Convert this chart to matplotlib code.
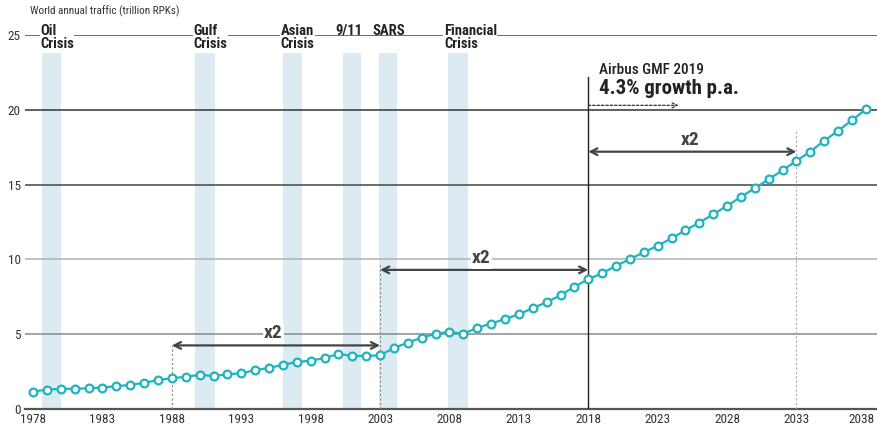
import matplotlib
matplotlib.use("Agg")
import matplotlib.pyplot as plt
from matplotlib import font_manager
from matplotlib.transforms import ScaledTranslation

names = {f.name for f in font_manager.fontManager.ttflist}
COND = "Liberation Sans Narrow" if "Liberation Sans Narrow" in names else (
    "Roboto Condensed" if "Roboto Condensed" in names else "Liberation Sans")
plt.rcParams['font.family'] = [COND, 'DejaVu Sans']

# ---- data ----
years = list(range(1978, 2039))
traffic = [1.16, 1.30, 1.35, 1.35, 1.39, 1.43, 1.53, 1.61, 1.75, 1.93,
           2.06, 2.15, 2.29, 2.20, 2.33, 2.38, 2.60, 2.74, 2.96, 3.14,
           3.23, 3.41, 3.68, 3.55, 3.55, 3.59, 4.08, 4.44, 4.76, 5.03,
           5.15, 5.03, 5.42, 5.71, 6.02, 6.33, 6.74, 7.14, 7.60, 8.18,
           8.67, 9.08, 9.57, 10.02, 10.47, 10.92, 11.41, 11.95, 12.46, 13.02,
           13.58, 14.18, 14.76, 15.36, 15.96, 16.59, 17.21, 17.93, 18.60, 19.30,
           20.04]
crisis_labels = ["Oil\nCrisis", "Gulf\nCrisis", "Asian\nCrisis", "9/11", "SARS", "Financial\nCrisis"]
crisis_start = [1978.65, 1989.7, 1996.0, 2000.3, 2002.95, 2007.9]
crisis_end = [1980.0, 1991.1, 1997.4, 2001.6, 2004.2, 2009.3]
xticks = list(range(1978, 2039, 5))
yticks = [0, 5, 10, 15, 20, 25]
doubling_periods = [(1988, 2003), (2003, 2018), (2018, 2033)]
title = "World annual traffic (trillion RPKs)"
forecast_title = "Airbus GMF 2019"
forecast_rate = "4.3% growth p.a."

fig = plt.figure(figsize=(8.77, 4.30), dpi=100)
ax = fig.add_axes([25/877, 21/430, 1 - 25/877, 374/430])
ax.set_xlim(1977.42, 2038.8)
ax.set_ylim(0, 25)

grid_colors = {5: '#8a8a8a', 10: '#b0b0b0', 15: '#444444', 20: '#333333', 25: '#444444'}
for yv in yticks[1:]:
    ax.axhline(yv, color=grid_colors[yv], lw=1.1, zorder=1)

for s, e in zip(crisis_start, crisis_end):
    ax.axvspan(s, e, ymin=0, ymax=(25 - 1.2) / 25, color='#dcebf1', lw=0, zorder=0)

# crisis labels
xs_map = {"9/11": 1999.75, "SARS": 2002.45, "Financial\nCrisis": 2007.6}
for lab, s in zip(crisis_labels, crisis_start):
    xs = xs_map.get(lab, s - 0.15)
    two = "\n" in lab
    ax.text(xs, 24.85 if two else 25.3, lab, ha='left', va='center', fontsize=10.5,
            fontweight='bold', color='#222222', linespacing=0.92, zorder=5, clip_on=False,
            bbox=dict(facecolor='white', edgecolor='none', pad=0.3) if two else None)

# series
ax.plot(years, traffic, color='#1fb3c0', lw=1.6, marker='o', ms=5.6,
        mfc='white', mec='#1fb3c0', mew=1.6, zorder=6)

# 2018 vertical
ax.plot([2018, 2018], [0, 22.2], color='#222222', lw=1.0, zorder=3)
# dashed verticals
ax.plot([1988, 1988], [0, 4.25], color='#888888', lw=0.8, ls=(0, (2, 2)), zorder=3)
ax.plot([2003, 2003], [0, 9.6], color='#888888', lw=0.8, ls=(0, (2, 2)), zorder=3)
ax.plot([2033, 2033], [0, 18.65], color='#aaaaaa', lw=0.8, ls=(0, (2, 2)), zorder=3)

arrow_y = [4.25, 9.3, 17.2]
lab_y = [5.05, 10.08, 18.0]
for (a, b), ay, ly in zip(doubling_periods, arrow_y, lab_y):
    ax.annotate("", xy=(a, ay), xytext=(b, ay),
                arrowprops=dict(arrowstyle='<->', color='#444444', lw=1.6,
                                shrinkA=0, shrinkB=0, mutation_scale=12), zorder=7)
    ax.text((a + b) / 2 - 0.2, ly, "x2", ha='center', va='center', fontsize=14,
            fontweight='bold', color='#444444', zorder=7,
            bbox=dict(facecolor='white', edgecolor='none', pad=1.0))

# forecast dashed arrow
ax.annotate("", xy=(2024.5, 20.3), xytext=(2018, 20.3),
            arrowprops=dict(arrowstyle='->', color='#333333', lw=0.9, ls=(0, (2, 1.5)),
                            shrinkA=0, shrinkB=0, mutation_scale=9), zorder=7)
ax.text(2018.8, 22.65, forecast_title, ha='left', va='center', fontsize=11,
        fontweight='medium', color='#222222', zorder=7)
ax.text(2018.75, 21.4, forecast_rate, ha='left', va='center', fontsize=15, fontweight='bold',
        color='#222222', zorder=7)

# axes styling
for sp in ['top', 'right', 'left']:
    ax.spines[sp].set_visible(False)
ax.spines['bottom'].set_color('#555555')
ax.spines['bottom'].set_linewidth(1.6)
ax.set_xticks(xticks)
ax.set_xticklabels([str(x) for x in xticks], fontsize=9.5, color='#333333')
ax.set_yticks(yticks)
ax.set_yticklabels([str(y) for y in yticks], fontsize=9.5, color='#333333')
ax.tick_params(axis='both', length=0)
ax.tick_params(axis='x', pad=3)
ax.tick_params(axis='y', pad=3)
last = ax.get_xticklabels()[-1]
last.set_transform(last.get_transform() + ScaledTranslation(-4/100, 0, fig.dpi_scale_trans))

fig.text(30/877, 1 - 11/430, title, ha='left', va='center', fontsize=8, color='#333333')

fig.savefig("out.png", dpi=100)
